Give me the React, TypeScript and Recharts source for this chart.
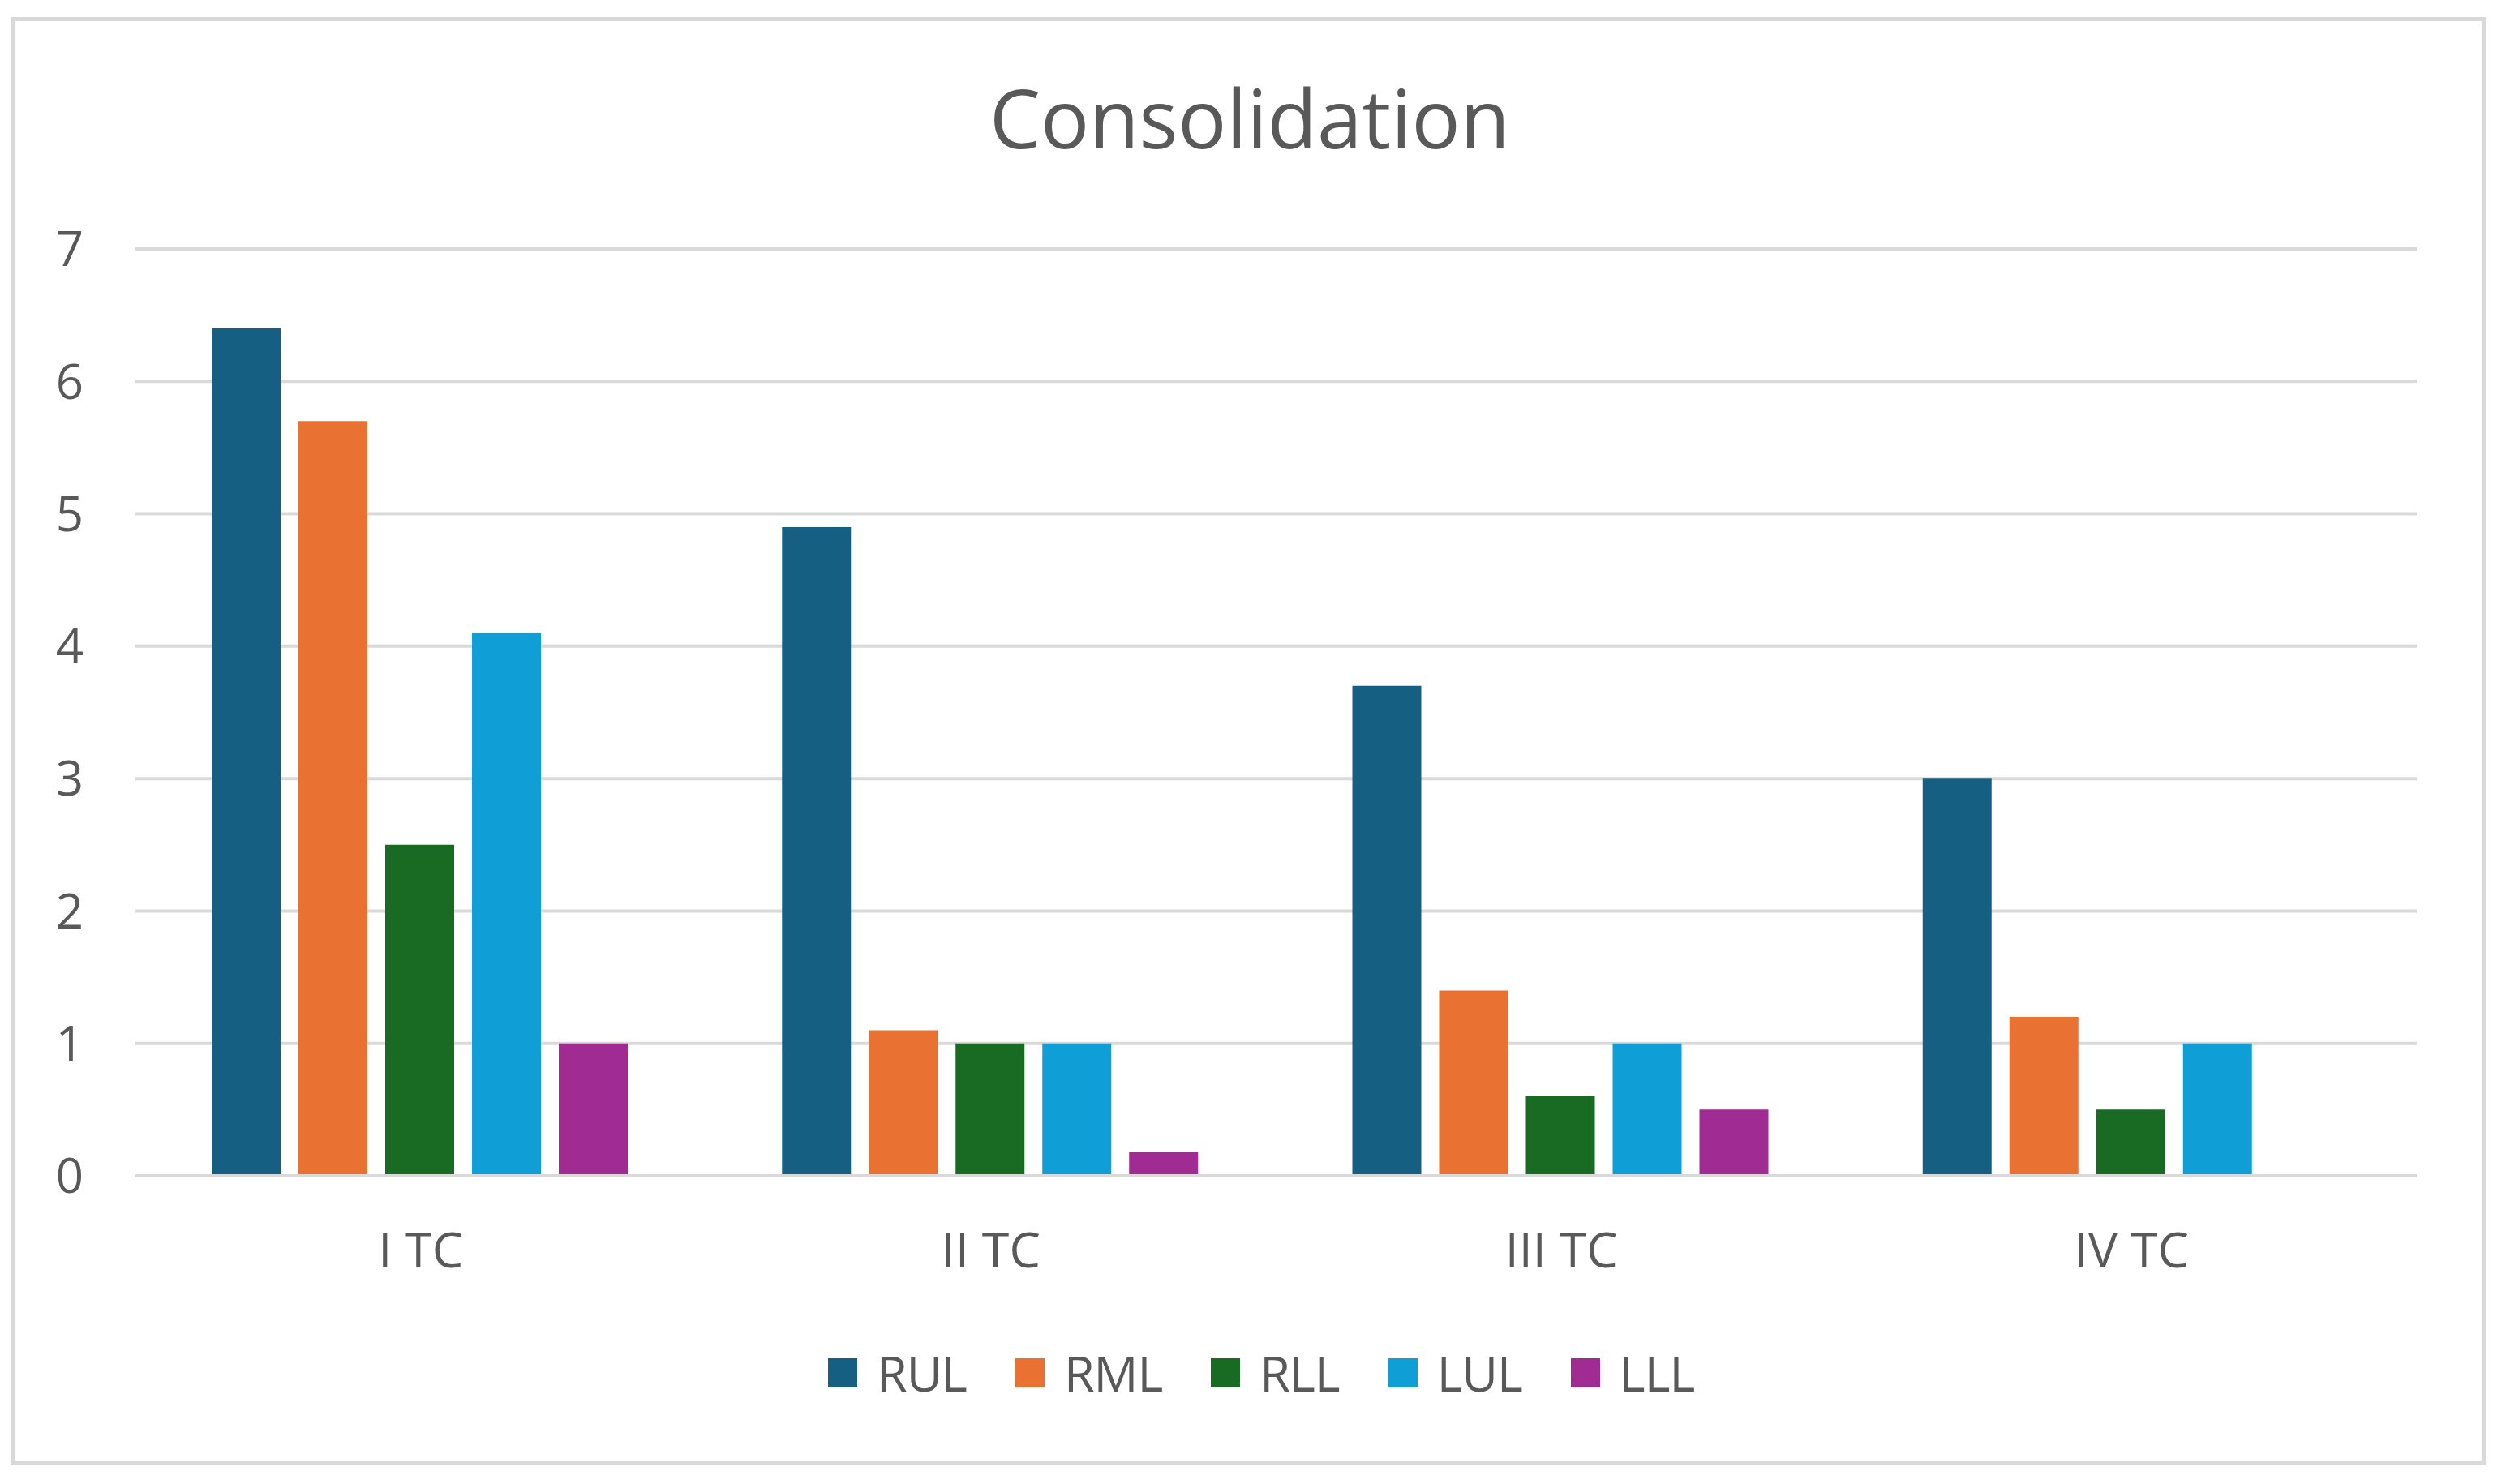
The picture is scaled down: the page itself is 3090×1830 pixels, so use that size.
import React from 'react';
import { Bar, BarChart, CartesianGrid, Legend, XAxis, YAxis } from 'recharts';

const categories = ['I TC', 'II TC', 'III TC', 'IV TC'];
const rul = [6.4, 4.9, 3.7, 3.0];
const rml = [5.7, 1.1, 1.4, 1.2];
const rll = [2.5, 1.0, 0.6, 0.5];
const lul = [4.1, 1.0, 1.0, 1.0];
const lll = [1.0, 0.18, 0.5, null];
const yTicks = [0, 1, 2, 3, 4, 5, 6, 7];

const series = [
  { key: 'RUL', values: rul, color: '#156082' },
  { key: 'RML', values: rml, color: '#E97132' },
  { key: 'RLL', values: rll, color: '#196B24' },
  { key: 'LUL', values: lul, color: '#0F9ED5' },
  { key: 'LLL', values: lll, color: '#A02B93' },
];

const data = categories.map((name, i) => {
  const row: Record<string, string | number | null> = { name };
  series.forEach((s) => {
    row[s.key] = s.values[i];
  });
  return row;
});

const FONT = '"Open Sans", sans-serif';
const TEXT = '#595959';
const GRID = '#D9D9D9';

function LegendContent() {
  return (
    <div style={{ display: 'flex', alignItems: 'center', gap: 60, height: 80 }}>
      {series.map((s) => (
        <div key={s.key} style={{ display: 'flex', alignItems: 'center', gap: 24 }}>
          <div style={{ width: 36, height: 36, background: s.color }} />
          <span
            style={{
              fontFamily: FONT,
              fontSize: 61,
              letterSpacing: -1,
              color: TEXT,
              lineHeight: '80px',
            }}
          >
            {s.key}
          </span>
        </div>
      ))}
    </div>
  );
}

export default function App() {
  return (
    <div
      style={{
        position: 'absolute',
        left: 0,
        top: 0,
        width: 3090,
        height: 1830,
        background: '#fff',
      }}
    >
      <div
        style={{
          position: 'absolute',
          left: 14,
          top: 21,
          width: 3041,
          height: 1776,
          border: `5px solid ${GRID}`,
        }}
      />
      <div
        style={{
          position: 'absolute',
          left: 0,
          top: 94,
          width: 3082,
          textAlign: 'center',
          fontFamily: FONT,
          fontSize: 100,
          lineHeight: '100px',
          color: TEXT,
        }}
      >
        Consolidation
      </div>
      <div style={{ position: 'absolute', left: 0, top: 0 }}>
        <BarChart
          width={3090}
          height={1830}
          data={data}
          margin={{ top: 307, right: 110, left: 0, bottom: 97 }}
          barCategoryGap={94}
          barGap={22}
        >
          <CartesianGrid vertical={false} stroke={GRID} strokeWidth={4} />
          <XAxis
            dataKey="name"
            height={203}
            axisLine={{ stroke: GRID, strokeWidth: 4 }}
            tickLine={false}
            tickSize={0}
            tickMargin={70}
            tick={{ fill: TEXT, fontSize: 61, fontFamily: FONT }}
          />
          <YAxis
            width={167}
            domain={[0, 7]}
            ticks={yTicks}
            axisLine={false}
            tickLine={false}
            tickSize={0}
            tickMargin={64}
            tick={{ fill: TEXT, fontSize: 60, fontFamily: FONT }}
          />
          <Legend
            verticalAlign="bottom"
            content={<LegendContent />}
            wrapperStyle={{ left: 1021, width: 1300 }}
          />
          {series.map((s) => (
            <Bar key={s.key} dataKey={s.key} fill={s.color} isAnimationActive={false} />
          ))}
        </BarChart>
      </div>
    </div>
  );
}
